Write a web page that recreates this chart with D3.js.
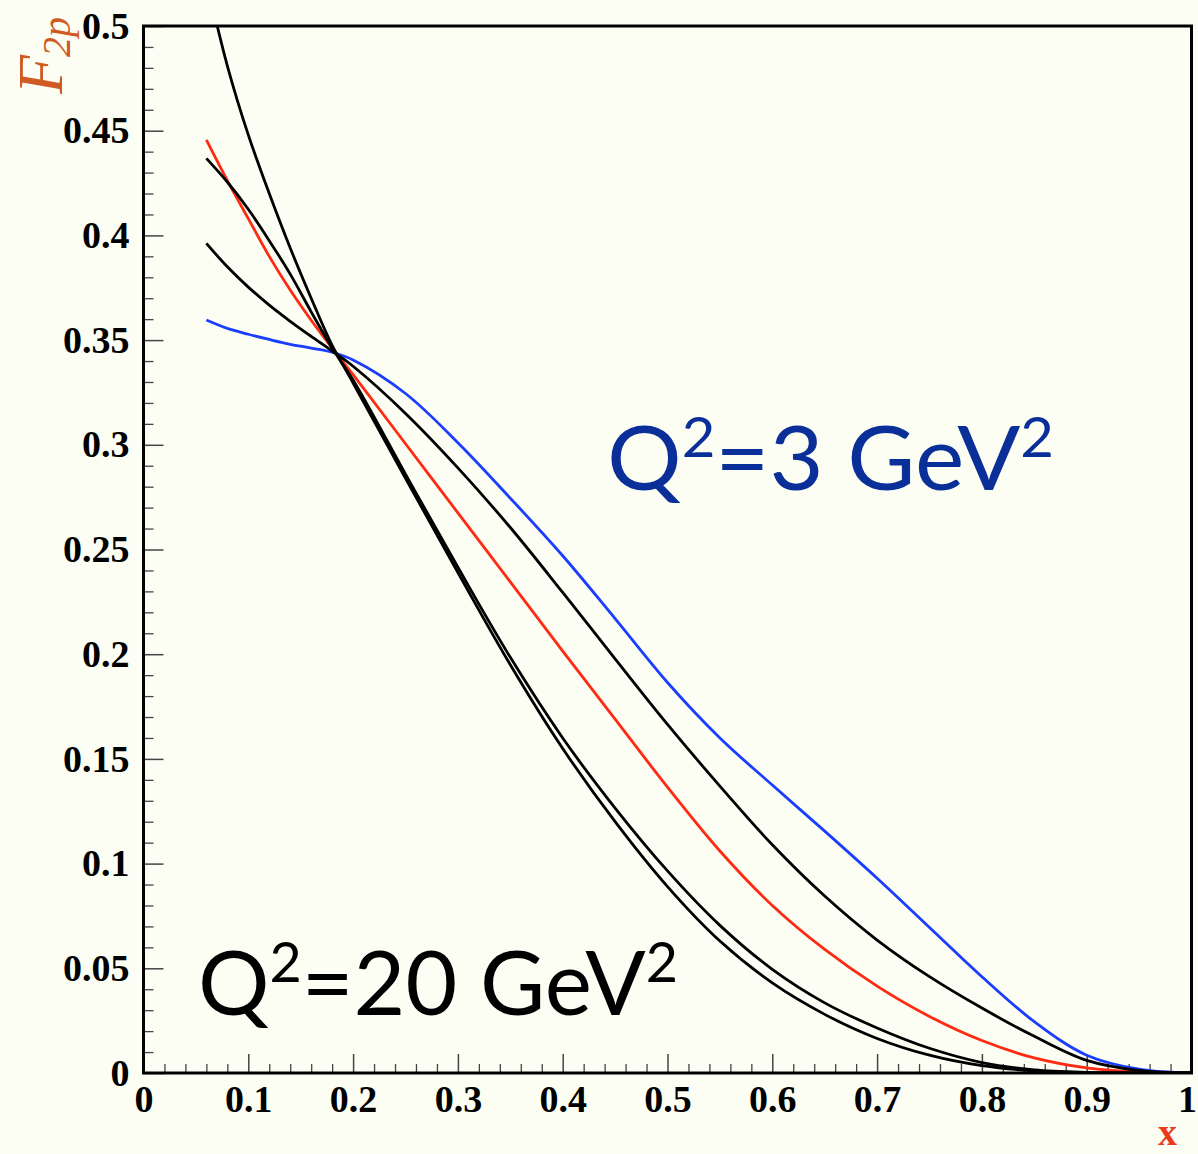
<!DOCTYPE html>
<html>
<head>
<meta charset="utf-8">
<script src="https://cdn.jsdelivr.net/npm/d3@7"></script>
<style>
  html, body { margin: 0; padding: 0; background: #fcfef4; }
  svg { display: block; }
</style>
</head>
<body>
<svg id="chart" width="1198" height="1154"></svg>
<script>
// x-värden (Bjorken x) för alla kurvor
const X_VALUES = [0.06, 0.08, 0.1, 0.12, 0.14, 0.16, 0.18, 0.2, 0.25, 0.3, 0.35, 0.4, 0.45,
  0.5, 0.55, 0.6, 0.65, 0.7, 0.75, 0.8, 0.85, 0.9, 0.95, 1.0];

// F2p vid Q^2 = 3 GeV^2 (blå)
const F2_Q3 = [0.3596, 0.3556, 0.3528, 0.3503, 0.3480, 0.3462, 0.3442, 0.3405, 0.3245, 0.3010, 0.2745, 0.2470, 0.2170,
  0.1865, 0.1600, 0.1375, 0.1155, 0.0930, 0.0695, 0.0460, 0.0245, 0.0085, 0.0018, 0.0];

// mellanliggande kurva (röd)
const F2_RED = [0.4456, 0.4262, 0.4080, 0.3900, 0.3739, 0.3595, 0.3462, 0.3335, 0.3005, 0.2675, 0.2345, 0.2015, 0.1690,
  0.1365, 0.1060, 0.0800, 0.0590, 0.0415, 0.0270, 0.0155, 0.0072, 0.0024, 0.0004, 0.0];

// svarta kurvor
const F2_B1 = [0.3962, 0.3850, 0.3753, 0.3667, 0.3590, 0.3518, 0.3448, 0.3375, 0.3150, 0.2890, 0.2605, 0.2295, 0.1978,
  0.1665, 0.1370, 0.1090, 0.0845, 0.0635, 0.0460, 0.0310, 0.0175, 0.0060, 0.0012, 0.0];
const F2_B2 = [0.4368, 0.4255, 0.4125, 0.3975, 0.3815, 0.3635, 0.3462, 0.3310, 0.2860, 0.2415, 0.1985, 0.1600, 0.1265,
  0.0965, 0.0705, 0.0495, 0.0335, 0.0215, 0.0118, 0.0050, 0.0015, 0.0003, 0.0, 0.0];
const F2_B3 = [0.5220, 0.4810, 0.4480, 0.4200, 0.3940, 0.3700, 0.3475, 0.3295, 0.2840, 0.2390, 0.1950, 0.1550, 0.1200,
  0.0890, 0.0630, 0.0430, 0.0280, 0.0165, 0.0085, 0.0035, 0.0010, 0.0002, 0.0, 0.0];

const SERIES = [
  { name: "Q2=3", values: F2_Q3, color: "#1b3dff" },
  { name: "red", values: F2_RED, color: "#ff2a12" },
  { name: "b1", values: F2_B1, color: "#000000" },
  { name: "b2", values: F2_B2, color: "#000000" },
  { name: "b3", values: F2_B3, color: "#000000" }
];

const X_TICKS = [0, 0.1, 0.2, 0.3, 0.4, 0.5, 0.6, 0.7, 0.8, 0.9, 1];
const X_TICK_LABELS = ["0", "0.1", "0.2", "0.3", "0.4", "0.5", "0.6", "0.7", "0.8", "0.9", "1"];
const Y_TICKS = [0, 0.05, 0.1, 0.15, 0.2, 0.25, 0.3, 0.35, 0.4, 0.45, 0.5];
const Y_TICK_LABELS = ["0", "0.05", "0.1", "0.15", "0.2", "0.25", "0.3", "0.35", "0.4", "0.45", "0.5"];

const svg = d3.select("#chart");
const W = 1198, H = 1154;
const plot = { left: 143.5, right: 1191.5, top: 26, bottom: 1073 };

svg.append("rect").attr("width", W).attr("height", H).attr("fill", "#fcfef4");

const x = d3.scaleLinear().domain([0, 1]).range([plot.left, plot.right]);
const y = d3.scaleLinear().domain([0, 0.5]).range([plot.bottom, plot.top]);

// klippning för kurvan som går över 0.5
svg.append("clipPath").attr("id", "clip")
  .append("rect")
  .attr("x", plot.left).attr("y", plot.top)
  .attr("width", plot.right - plot.left).attr("height", plot.bottom - plot.top);

// Mindre skalstreck
const xMinor = d3.range(0, 1.0001, 0.02).filter(v => Math.abs(v * 10 - Math.round(v * 10)) > 1e-6);
const yMinor = d3.range(0, 0.5001, 0.01).filter(v => Math.abs(v * 20 - Math.round(v * 20)) > 1e-6);

svg.append("g")
  .attr("transform", `translate(0,${plot.bottom})`)
  .call(d3.axisBottom(x).tickValues(xMinor).tickSize(-9).tickFormat(""))
  .call(g => g.select(".domain").remove())
  .call(g => g.selectAll("line").attr("stroke", "#444").attr("stroke-width", 1.3));

svg.append("g")
  .attr("transform", `translate(${plot.left},0)`)
  .call(d3.axisLeft(y).tickValues(yMinor).tickSize(-10).tickFormat(""))
  .call(g => g.select(".domain").remove())
  .call(g => g.selectAll("line").attr("stroke", "#444").attr("stroke-width", 1.3));

// Större skalstreck med etiketter
svg.append("g")
  .attr("transform", `translate(0,${plot.bottom})`)
  .call(d3.axisBottom(x).tickValues(X_TICKS).tickSize(-19).tickPadding(12)
    .tickFormat((d, i) => X_TICK_LABELS[i]))
  .call(g => g.select(".domain").remove())
  .call(g => g.selectAll("line").attr("stroke", "#444").attr("stroke-width", 1.5))
  .call(g => g.selectAll("text")
    .attr("fill", "#000")
    .style("font-family", "'Liberation Serif', 'Times New Roman', serif")
    .style("font-weight", "700")
    .style("font-size", "38px"))
  // sista etiketten hålls inom bilden
  .call(g => g.selectAll("text").filter(d => d === 1)
    .attr("text-anchor", "end").attr("x", 5));

svg.append("g")
  .attr("transform", `translate(${plot.left},0)`)
  .call(d3.axisLeft(y).tickValues(Y_TICKS).tickSize(-20).tickPadding(14)
    .tickFormat((d, i) => Y_TICK_LABELS[i]))
  .call(g => g.select(".domain").remove())
  .call(g => g.selectAll("line").attr("stroke", "#444").attr("stroke-width", 1.5))
  .call(g => g.selectAll("text")
    .attr("fill", "#000")
    .style("font-family", "'Liberation Serif', 'Times New Roman', serif")
    .style("font-weight", "700")
    .style("font-size", "38px"));

// Kurvor
const line = d3.line()
  .x((d, i) => x(X_VALUES[i]))
  .y(d => y(d))
  .curve(d3.curveCatmullRom.alpha(0.5));

svg.append("g")
  .attr("clip-path", "url(#clip)")
  .selectAll("path")
  .data(SERIES)
  .join("path")
  .attr("d", d => line(d.values))
  .attr("fill", "none")
  .attr("stroke", d => d.color)
  .attr("stroke-width", 2.8)
  .attr("stroke-linejoin", "round");

// Ram
svg.append("rect")
  .attr("x", plot.left).attr("y", plot.top)
  .attr("width", plot.right - plot.left).attr("height", plot.bottom - plot.top)
  .attr("fill", "none")
  .attr("stroke", "#000")
  .attr("stroke-width", 3);

// Axelrubriker
svg.append("text")
  .attr("x", 1177).attr("y", 1145)
  .attr("text-anchor", "end")
  .attr("fill", "#ea3a1c")
  .style("font-family", "'Liberation Serif', serif")
  .style("font-weight", "700")
  .style("font-size", "38px")
  .text("x");

const yTitle = svg.append("text")
  .attr("transform", "translate(62,94) rotate(-90)")
  .attr("fill", "#cf5a22")
  .style("font-family", "'Liberation Serif', serif")
  .style("font-style", "italic");
yTitle.append("tspan").style("font-size", "64px").text("F");
yTitle.append("tspan").attr("dy", 8).attr("dx", -2).style("font-size", "40px").text("2p");

// Q^2-etiketter
function qLabel(px, py, value, color, width) {
  const t = svg.append("text")
    .attr("x", px).attr("y", py)
    .attr("fill", color)
    .attr("textLength", width)
    .attr("lengthAdjust", "spacingAndGlyphs")
    .style("font-family", "Lato, 'Open Sans', sans-serif")
    .style("font-size", "90px");
  t.append("tspan").text("Q");
  t.append("tspan").attr("dy", -33).style("font-size", "56px").text("2");
  t.append("tspan").attr("dy", 33).text(`=${value} GeV`);
  t.append("tspan").attr("dy", -33).style("font-size", "56px").text("2");
}

qLabel(607, 490, "3", "#0a2f99", 447);
qLabel(198, 1015, "20", "#000000", 480);
</script>
</body>
</html>
